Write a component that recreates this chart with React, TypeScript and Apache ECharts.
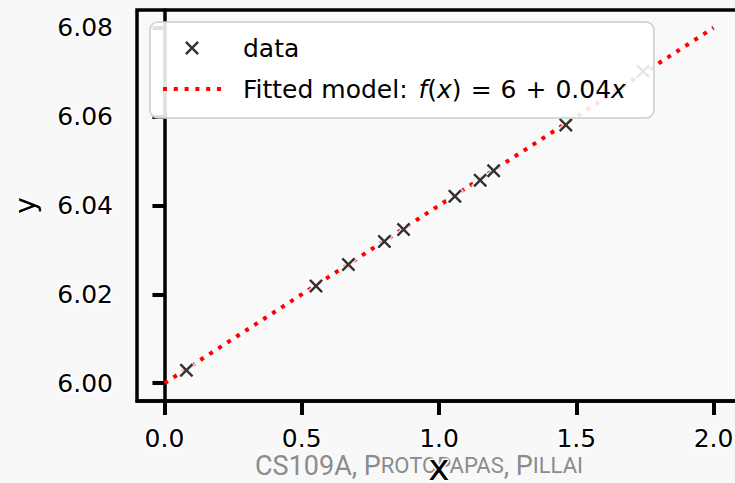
import React, { useEffect, useRef } from "react";
import * as echarts from "echarts";

const xData = [0.08, 0.552, 0.67, 0.801, 0.871, 1.058, 1.15, 1.199, 1.462, 1.743];
const yData = [6.0029, 6.0219, 6.0267, 6.0319, 6.0346, 6.0421, 6.0457, 6.0478, 6.0581, 6.0702];
const fitX = [0, 2];
const fitY = [6.0, 6.08];
const xTicks = [0, 0.5, 1, 1.5, 2];
const yTicks = [6.0, 6.02, 6.04, 6.06, 6.08];
const seriesNames = ["data", "Fitted model"];
const watermark = ["CS109A, P", "ROTOPAPAS", ", P", "ILLAI"];

const X_PATH =
  "path://M0,1.25L1.25,0L5,3.75L8.75,0L10,1.25L6.25,5L10,8.75L8.75,10L5,6.25L1.25,10L0,8.75L3.75,5Z";
const DOTS_PATH =
  "path://M0,0h4v4h-4zM10.7,0h4v4h-4zM21.4,0h4v4h-4zM32.1,0h4v4h-4zM42.8,0h4v4h-4zM53.5,0h4v4h-4z";

const FONT = "DejaVu Sans";

export default function App() {
  const ref = useRef<HTMLDivElement>(null);
  useEffect(() => {
    if (!ref.current) return;
    const chart = echarts.init(ref.current, null, { renderer: "svg" });
    const points = xData.map((x, i) => [x, yData[i]]);
    const fit = fitX.map((x, i) => [x, fitY[i]]);
    const txt = { fontFamily: FONT, fontSize: 25, color: "#000", lineHeight: 30 };
    chart.setOption({
      animation: false,
      backgroundColor: "#f8f8f8",
      grid: {
        left: 137,
        top: 10,
        right: -6,
        bottom: 82,
        outerBoundsMode: "none",
        containLabel: false,
        show: true,
        backgroundColor: "#f9f9f9",
        borderColor: "#000",
        borderWidth: 3.5,
      },
      xAxis: {
        type: "value",
        min: -0.1,
        max: 2.1,
        name: "x",
        nameLocation: "middle",
        nameGap: 48,
        nameMoveOverlap: false,
        nameTextStyle: {
          fontFamily: FONT,
          fontSize: 36,
          color: "#000",
          textBorderColor: "#fff",
          textBorderWidth: 3,
        },
        axisLine: { show: true, lineStyle: { color: "#000", width: 3.5 } },
        axisTick: { show: true, customValues: xTicks, length: 14, lineStyle: { color: "#000", width: 4 } },
        axisLabel: {
          customValues: xTicks,
          formatter: (v: number) => v.toFixed(1),
          margin: 25,
          fontFamily: FONT,
          fontSize: 25,
          color: "#000",
          textBorderColor: "#fff",
          textBorderWidth: 3,
        },
        splitLine: { show: false },
      },
      yAxis: {
        type: "value",
        min: 5.996,
        max: 6.084,
        name: "y",
        nameLocation: "middle",
        nameGap: 98,
        nameMoveOverlap: false,
        nameTextStyle: {
          fontFamily: FONT,
          fontSize: 28,
          color: "#000",
          textBorderColor: "#fff",
          textBorderWidth: 3,
        },
        axisLine: { show: true, lineStyle: { color: "#000", width: 3.5 } },
        axisTick: { show: true, customValues: yTicks, length: 12, lineStyle: { color: "#000", width: 4 } },
        axisLabel: {
          customValues: yTicks,
          formatter: (v: number) => v.toFixed(2),
          margin: 24,
          fontFamily: FONT,
          fontSize: 25,
          color: "#000",
          textBorderColor: "#fff",
          textBorderWidth: 3,
        },
        splitLine: { show: false },
      },
      legend: {
        orient: "vertical",
        left: 150,
        top: 22,
        z: 10,
        padding: [11, 28, 14, 13],
        itemGap: 11,
        itemWidth: 58,
        itemHeight: 14,
        backgroundColor: "rgba(255,255,255,0.88)",
        borderColor: "#cccccc",
        borderWidth: 1.5,
        borderRadius: 8,
        data: [
          { name: seriesNames[0], icon: X_PATH, itemStyle: { color: "#000" } },
          { name: seriesNames[1], icon: DOTS_PATH, itemStyle: { color: "#ff0000" } },
        ],
        formatter: (name: string) =>
          name === seriesNames[0]
            ? "{n|data}"
            : "{n|Fitted model: }{f|f}{n|(}{i|x}{n|)}{o|=}{n|6}{o|+}{n|0.04}{i|x}",
        textStyle: {
          padding: [0, 0, 0, 17],
          lineHeight: 30,
          rich: {
            n: txt,
            i: { ...txt, fontStyle: "italic" },
            f: { ...txt, fontStyle: "italic", padding: [0, 0, 0, 3] },
            o: { ...txt, padding: [0, 9, 0, 9] },
          },
        },
      },
      graphic: [
        {
          type: "text",
          left: 255,
          top: 452,
          z: -1,
          style: {
            text: `{a|${watermark[0]}}{b|${watermark[1]}}{a|${watermark[2]}}{b|${watermark[3]}}`,
            rich: {
              a: { fontFamily: "Roboto", fontSize: 27, fill: "#8c8c8c" },
              b: { fontFamily: "Roboto", fontSize: 22, fill: "#8c8c8c" },
            },
          },
        },
      ],
      series: [
        {
          name: seriesNames[1],
          type: "line",
          data: fit,
          symbol: "none",
          showSymbol: false,
          z: 2,
          lineStyle: { color: "#ff0000", width: 4, type: [4, 6.7], cap: "butt" },
          itemStyle: { color: "#ff0000" },
        },
        {
          name: "halo",
          type: "scatter",
          data: points,
          symbol: X_PATH,
          symbolSize: 14,
          z: 3,
          silent: true,
          itemStyle: { color: "#fff", borderColor: "#fff", borderWidth: 3 },
        },
        {
          name: seriesNames[0],
          type: "scatter",
          data: points,
          symbol: X_PATH,
          symbolSize: 14,
          z: 3,
          itemStyle: { color: "#000" },
        },
      ],
    });
    return () => chart.dispose();
  }, []);
  return (
    <div
      ref={ref}
      style={{ position: "fixed", left: 0, top: 0, width: 735, height: 483 }}
    />
  );
}
